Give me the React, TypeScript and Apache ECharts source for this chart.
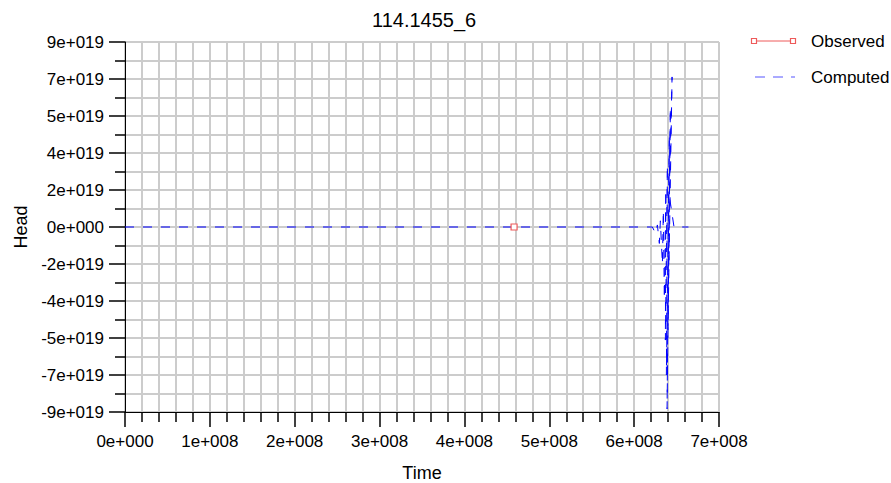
import React, { useEffect, useRef } from "react";
import * as echarts from "echarts";

const chartTitle = "114.1455_6";
const xAxisName = "Time";
const yAxisName = "Head";
const seriesNames = ["Observed", "Computed"];

// Observed (time, head)
const observedTime = [4.585e8];
const observedHead = [0];

// Computed (time, head)
const computedTime = [
  0, 6.215e8, 6.25e8, 6.274e8, 6.297e8, 6.309e8, 6.333e8, 6.344e8, 6.356e8,
  6.374e8, 6.368e8, 6.392e8, 6.38e8, 6.415e8, 6.388e8, 6.427e8, 6.398e8,
  6.447e8, 6.415e8, 6.47e8, 6.64e8,
];
const computedHead = [
  0, 0, -0.3e19, 0.1e19, -0.8e19, 0.3e19, -1.8e19, 0.8e19, -3.5e19,
  1.8e19, -5.5e19, 3.0e19, -7.2e19, 4.5e19, -8.85e19, 5.8e19, -5.0e19,
  7.3e19, 1.5e19, 0, 0,
];

const xMin = 0;
const xMax = 7e8;
const xInterval = 1e8;
const yMin = -9e19;
const yMax = 9e19;
const yInterval = 1.8e19;

const fmt = (v: number) => {
  if (Math.abs(v) < 1e3) return "0e+000";
  const s = v.toExponential(0);
  return s.replace(/e([+-])(\d+)/, (_m, sign, d) => "e" + sign + d.padStart(3, "0"));
};

const FONT = "Liberation Sans, Arial, sans-serif";

export default function App() {
  const ref = useRef<HTMLDivElement>(null);
  useEffect(() => {
    if (!ref.current) return;
    const chart = echarts.init(ref.current, undefined, { renderer: "svg" });
    const observedData = observedTime.map((t, i) => [t, observedHead[i]]);
    const computedData = computedTime.map((t, i) => [t, computedHead[i]]);
    const red = "#ee5a5a";
    chart.setOption({
      animation: false,
      backgroundColor: "#ffffff",
      textStyle: { fontFamily: FONT },
      title: {
        text: chartTitle,
        left: 367,
        top: 5,
        textStyle: { fontFamily: FONT, fontSize: 20, fontWeight: "normal", color: "#000" },
      },
      grid: {
        left: 125,
        top: 42,
        width: 594,
        height: 370,
        outerBoundsMode: "none",
        containLabel: false,
        show: true,
        borderColor: "#000",
        borderWidth: 1,
        backgroundColor: "transparent",
      },
      xAxis: {
        type: "value",
        min: xMin,
        max: xMax,
        interval: xInterval,
        name: xAxisName,
        nameLocation: "middle",
        nameGap: 52,
        nameTextStyle: { fontFamily: FONT, fontSize: 18, color: "#000" },
        axisLine: { show: true, onZero: false, lineStyle: { color: "#000", width: 1 } },
        axisTick: { show: true, inside: false, length: 15, lineStyle: { color: "#000", width: 1.5 } },
        minorTick: { show: true, splitNumber: 5, length: 10, lineStyle: { color: "#000", width: 1.5 } },
        axisLabel: { fontFamily: FONT, fontSize: 17, color: "#000", margin: 21, formatter: fmt },
        splitLine: { show: true, lineStyle: { color: "#cccccc", width: 2 } },
        minorSplitLine: { show: true, lineStyle: { color: "#cccccc", width: 2 } },
      },
      yAxis: {
        type: "value",
        min: yMin,
        max: yMax,
        interval: yInterval,
        name: yAxisName,
        nameLocation: "middle",
        nameRotate: 90,
        nameGap: 95,
        nameTextStyle: { fontFamily: FONT, fontSize: 18, color: "#000" },
        axisLine: { show: true, onZero: false, lineStyle: { color: "#000", width: 1 } },
        axisTick: { show: true, inside: false, length: 16, lineStyle: { color: "#000", width: 1.5 } },
        minorTick: { show: true, splitNumber: 2, length: 10, lineStyle: { color: "#000", width: 1.5 } },
        axisLabel: { fontFamily: FONT, fontSize: 17, color: "#000", margin: 21, formatter: fmt },
        splitLine: { show: true, lineStyle: { color: "#cccccc", width: 2 } },
        minorSplitLine: { show: true, lineStyle: { color: "#cccccc", width: 2 } },
      },
      series: [
        {
          name: seriesNames[0],
          type: "line",
          data: observedData,
          symbol: "rect",
          symbolSize: 6,
          showSymbol: true,
          itemStyle: { color: "#ffffff", borderColor: red, borderWidth: 1.2 },
          lineStyle: { color: red, width: 1 },
          z: 5,
        },
        {
          name: seriesNames[1],
          type: "line",
          data: computedData,
          showSymbol: false,
          symbol: "none",
          lineStyle: { color: "#0000ff", width: 1, type: [9, 9] },
          z: 4,
        },
      ],
      graphic: [
        { type: "line", shape: { x1: 754, y1: 41, x2: 793, y2: 41 }, style: { stroke: red, lineWidth: 1 } },
        { type: "rect", shape: { x: 751.5, y: 38.5, width: 5, height: 5 }, style: { fill: "#fff", stroke: red, lineWidth: 1.2 } },
        { type: "rect", shape: { x: 790.5, y: 38.5, width: 5, height: 5 }, style: { fill: "#fff", stroke: red, lineWidth: 1.2 } },
        {
          type: "text",
          x: 811,
          y: 41,
          style: { text: seriesNames[0], fontFamily: FONT, fontSize: 17, fill: "#000", verticalAlign: "middle" },
        },
        {
          type: "line",
          shape: { x1: 755, y1: 77, x2: 795, y2: 77 },
          style: { stroke: "#5555ff", lineWidth: 1, lineDash: [10, 8] },
        },
        {
          type: "text",
          x: 811,
          y: 77,
          style: { text: seriesNames[1], fontFamily: FONT, fontSize: 17, fill: "#000", verticalAlign: "middle" },
        },
      ],
    });
    return () => chart.dispose();
  }, []);
  return (
    <div
      ref={ref}
      style={{ position: "fixed", left: 0, top: 0, width: 891, height: 483, background: "#fff" }}
    />
  );
}
